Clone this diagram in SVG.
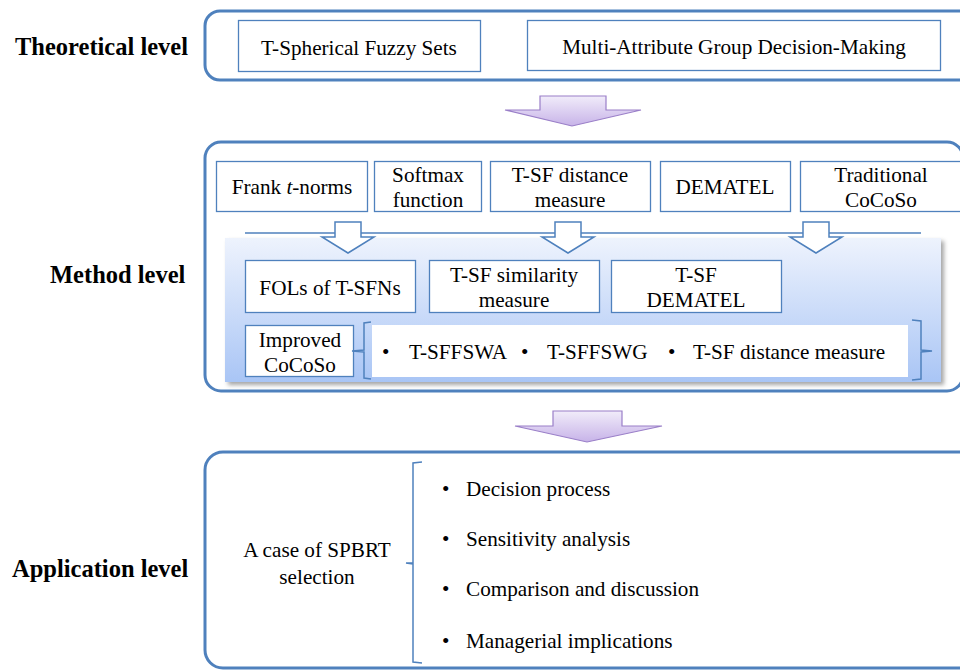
<svg xmlns="http://www.w3.org/2000/svg" width="960" height="671" viewBox="0 0 960 671">
<defs>
<linearGradient id="panelGrad" x1="0" y1="0" x2="0" y2="1">
<stop offset="0" stop-color="#eef3fd"/>
<stop offset="1" stop-color="#a9c5f5"/>
</linearGradient>
<linearGradient id="purpleGrad" x1="0" y1="0" x2="0" y2="1">
<stop offset="0" stop-color="#f1ecfa"/>
<stop offset="1" stop-color="#c7b3e8"/>
</linearGradient>
<filter id="shadow" x="-5%" y="-5%" width="110%" height="115%">
<feGaussianBlur in="SourceAlpha" stdDeviation="2"/>
<feOffset dx="3" dy="3" result="b"/>
<feFlood flood-color="#000" flood-opacity="0.35"/>
<feComposite in2="b" operator="in"/>
<feMerge><feMergeNode/><feMergeNode in="SourceGraphic"/></feMerge>
</filter>
</defs>
<style>
.outer{fill:#fff;stroke:#4f81bd;stroke-width:3}
.box{fill:#fff;stroke:#4f81bd;stroke-width:1.3}
.lbl{font-family:"Liberation Serif","Times New Roman",serif;font-weight:bold;font-size:24.5px;fill:#000}
.t{font-family:"Liberation Serif","Times New Roman",serif;font-size:21.2px;fill:#000;text-anchor:middle}
.tl{font-family:"Liberation Serif","Times New Roman",serif;font-size:21.2px;fill:#000}
.brace{fill:none;stroke:#4f81bd;stroke-width:1.5}
.hollow{fill:#fff;stroke:#4f81bd;stroke-width:1.5;stroke-linejoin:miter}
.purple{fill:url(#purpleGrad);stroke:#9a7fc8;stroke-width:1.2}
</style>

<!-- Level labels -->
<text class="lbl" x="15" y="55">Theoretical level</text>
<text class="lbl" x="50" y="283">Method level</text>
<text class="lbl" x="12" y="577">Application level</text>

<!-- Theoretical level -->
<g id="theoretical-level">
<rect class="outer" x="205" y="11" width="775" height="69" rx="15"/>
</g>
<g id="tsfs">
<rect class="box" x="238.5" y="20.5" width="242" height="51"/>
<text class="t" x="359" y="55">T-Spherical Fuzzy Sets</text>
</g>
<g id="magdm">
<rect class="box" x="527.5" y="20.5" width="413" height="50"/>
<text class="t" x="734" y="54">Multi-Attribute Group Decision-Making</text>
</g>

<!-- Method level -->
<g id="method-level">
<rect class="outer" x="205" y="142" width="758" height="249" rx="16"/>
</g>
<g id="frank">
<rect class="box" x="216.5" y="161.5" width="151" height="50"/>
<text class="t" x="292" y="194">Frank <tspan font-style="italic">t</tspan>-norms</text>
</g>
<g id="softmax">
<rect class="box" x="374.5" y="161.5" width="107" height="50"/>
<text class="t" x="428" y="182">Softmax</text>
<text class="t" x="428" y="207">function</text>
</g>
<g id="tsf-distance">
<rect class="box" x="490.5" y="161.5" width="160" height="50"/>
<text class="t" x="570" y="182">T-SF distance</text>
<text class="t" x="570" y="207">measure</text>
</g>
<g id="dematel">
<rect class="box" x="660.5" y="161.5" width="130" height="50"/>
<text class="t" x="725" y="194">DEMATEL</text>
</g>
<g id="traditional-cocoso">
<rect class="box" x="800.5" y="161.5" width="163" height="50"/>
<text class="t" x="881" y="182">Traditional</text>
<text class="t" x="881" y="207">CoCoSo</text>
</g>

<g id="connectors">
<line x1="245" y1="233" x2="921" y2="233" stroke="#4f81bd" stroke-width="1.5"/>
<polygon class="purple" points="540,96 606,96 606,110 641,110 572,126 505,110 540,110"/>
<polygon class="purple" points="553,411 622,411 622,426 662,426 587,442 515,426 553,426"/>
</g>

<g id="method-panel">
<rect x="225" y="238" width="716" height="144" fill="url(#panelGrad)" filter="url(#shadow)"/>
</g>

<g id="connectors-hollow">
<polygon class="hollow" points="335,222 361,222 361,237 374,237 348,253 322,237 335,237"/>
<polygon class="hollow" points="555,222 581,222 581,237 594,237 568,253 542,237 555,237"/>
<polygon class="hollow" points="803,222 829,222 829,237 842,237 816,253 790,237 803,237"/>
</g>

<g id="fols">
<rect class="box" x="245.5" y="260.5" width="170" height="52"/>
<text class="t" x="330" y="295">FOLs of T-SFNs</text>
</g>
<g id="tsf-similarity">
<rect class="box" x="429.5" y="260.5" width="170" height="52"/>
<text class="t" x="514" y="282">T-SF similarity</text>
<text class="t" x="514" y="307">measure</text>
</g>
<g id="tsf-dematel">
<rect class="box" x="611.5" y="260.5" width="170" height="52"/>
<text class="t" x="696" y="282">T-SF</text>
<text class="t" x="696" y="307">DEMATEL</text>
</g>
<g id="improved-cocoso">
<rect class="box" x="245.5" y="325.5" width="108" height="51"/>
<text class="t" x="300" y="347">Improved</text>
<text class="t" x="300" y="372">CoCoSo</text>
</g>
<g id="cocoso-components">
<path class="brace" d="M371,322 L364,323 L364,350 L352,351 L364,352 L364,378 L371,379"/>
<rect x="372" y="325" width="536" height="52" fill="#fff"/>
<text class="tl" x="382" y="359">•</text>
<text class="tl" x="409" y="359">T-SFFSWA</text>
<text class="tl" x="521" y="359">•</text>
<text class="tl" x="547" y="359">T-SFFSWG</text>
<text class="tl" x="668" y="359">•</text>
<text class="tl" x="693" y="359">T-SF distance measure</text>
<path class="brace" d="M912,320 L921,321 L921,350 L932,351 L921,352 L921,379 L912,380"/>
</g>

<!-- Application level -->
<g id="application-level">
<rect class="outer" x="205" y="452" width="775" height="216" rx="18"/>
</g>
<g id="spbrt-case">
<text class="t" x="317" y="557">A case of SPBRT</text>
<text class="t" x="317" y="584">selection</text>
</g>
<g id="application-items">
<path class="brace" d="M422,462 L413,463 L413,563 L406,563 L413,564 L413,662 L422,663"/>
<text class="tl" x="442" y="496">•</text>
<text class="tl" x="466" y="496">Decision process</text>
<text class="tl" x="442" y="546">•</text>
<text class="tl" x="466" y="546">Sensitivity analysis</text>
<text class="tl" x="442" y="596">•</text>
<text class="tl" x="466" y="596">Comparison and discussion</text>
<text class="tl" x="442" y="648">•</text>
<text class="tl" x="466" y="648">Managerial implications</text>
</g>
</svg>
